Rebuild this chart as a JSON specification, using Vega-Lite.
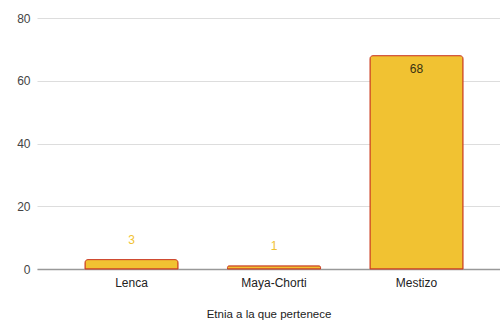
{
  "$schema": "https://vega.github.io/schema/vega-lite/v6.json",
  "width": 463,
  "height": 251,
  "autosize": "none",
  "padding": {"left": 37, "top": 18, "right": 0, "bottom": 55},
  "background": "white",
  "config": {"view": {"stroke": null}, "font": "Liberation Sans"},
  "data": {"values": [
    {"etnia": "Lenca", "n": 3},
    {"etnia": "Maya-Chorti", "n": 1},
    {"etnia": "Mestizo", "n": 68}
  ]},
  "encoding": {
    "x": {"field": "etnia", "type": "nominal", "sort": null,
      "scale": {"paddingInner": 0.347, "paddingOuter": 0.298, "align": 0.565},
      "axis": {"title": "Etnia a la que pertenece", "labelAngle": 0, "ticks": false, "labelPadding": 8,
        "labelFontSize": 12, "labelColor": "#222", "titleFontSize": 11.5, "titleFontWeight": "normal",
        "titleColor": "#222", "titlePadding": 20, "domainColor": "#999", "domainWidth": 1.5}},
    "y": {"field": "n", "type": "quantitative",
      "scale": {"domain": [0, 80]},
      "axis": {"title": null, "values": [0, 20, 40, 60, 80], "ticks": false, "domain": false,
        "labelPadding": 7, "labelFontSize": 12, "labelColor": "#444", "gridColor": "#ddd"}}
  },
  "layer": [
    {"mark": {"type": "bar", "color": "#f1c232", "stroke": "#cc4125", "strokeWidth": 1, "cornerRadiusTopLeft": 3, "cornerRadiusTopRight": 3}},
    {"transform": [{"filter": "datum.n < 10"}],
     "mark": {"type": "text", "dy": -20, "baseline": "middle", "fontSize": 12, "color": "#f1c232"},
     "encoding": {"text": {"field": "n"}}},
    {"transform": [{"filter": "datum.n >= 10"}],
     "mark": {"type": "text", "dy": 13, "baseline": "middle", "fontSize": 12, "color": "#3a3113"},
     "encoding": {"text": {"field": "n"}}}
  ]
}
